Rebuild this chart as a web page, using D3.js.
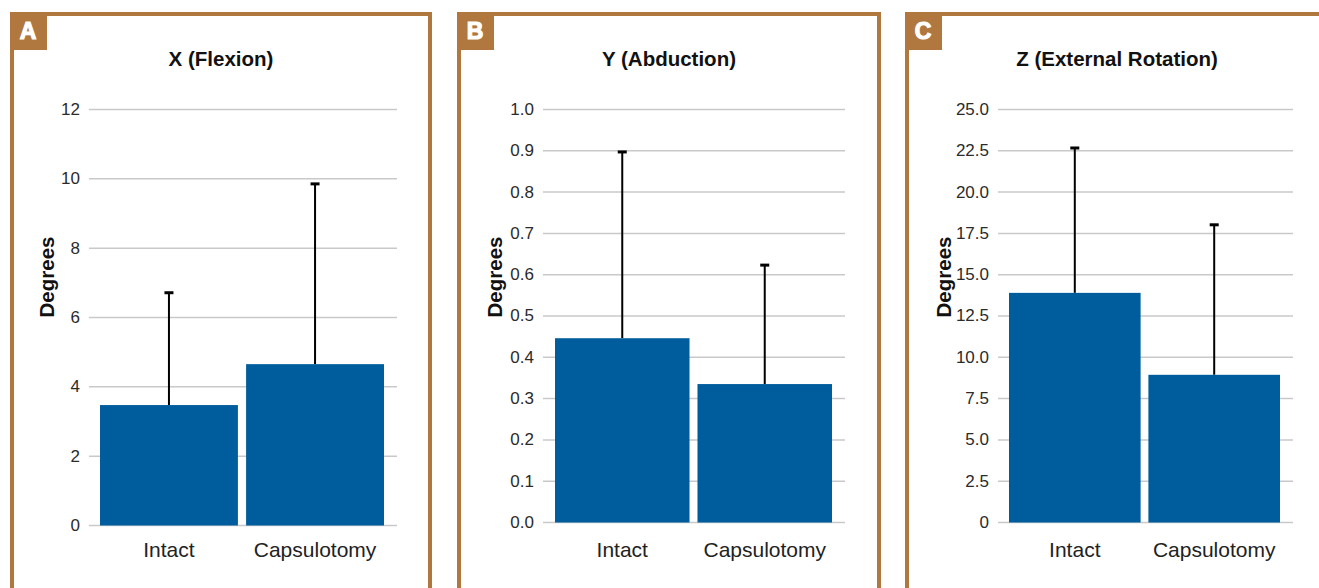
<!DOCTYPE html>
<html>
<head>
<meta charset="utf-8">
<script src="https://cdn.jsdelivr.net/npm/d3@7"></script>
<style>
  body { margin: 0; background: #fff; }
  svg { display: block; font-family: "Liberation Sans", Arial, Helvetica, sans-serif; }
</style>
</head>
<body>
<div id="chart"></div>
<script>
// data
var categories = ["Intact", "Capsulotomy"];
var panelLetters = ["A", "B", "C"];
var panelTitles = ["X (Flexion)", "Y (Abduction)", "Z (External Rotation)"];

var flexionMean = [3.46, 4.64];
var flexionSD = [3.24, 5.20];
var abductionMean = [0.445, 0.334];
var abductionSD = [0.451, 0.288];
var rotationMean = [13.87, 8.91];
var rotationSD = [8.77, 9.08];

var flexionTicks = [0, 2, 4, 6, 8, 10, 12];
var abductionTicks = [0, 0.1, 0.2, 0.3, 0.4, 0.5, 0.6, 0.7, 0.8, 0.9, 1.0];
var rotationTicks = [0, 2.5, 5, 7.5, 10, 12.5, 15, 17.5, 20, 22.5, 25];

var width = 1319, height = 588;
var brown = "#b0773f", blue = "#005d9d";

var svg = d3.select("#chart").append("svg")
    .attr("width", width)
    .attr("height", height);

// layout for each panel (frame, plot area, bars)
var panels = [
  { frameX: 12, frameW: 418, gridL: 89, gridR: 397, barL: 100, barR: 384, y0: 525, degX: 46,
    mean: flexionMean, sd: flexionSD, ticks: flexionTicks, max: 12, fmt: d3.format("d") },
  { frameX: 459, frameW: 420, gridL: 543, gridR: 845, barL: 555, barR: 832, y0: 522, degX: 494,
    mean: abductionMean, sd: abductionSD, ticks: abductionTicks, max: 1, fmt: d3.format(".1f") },
  { frameX: 907, frameW: 420, gridL: 998, gridR: 1293, barL: 1009, barR: 1280, y0: 522, degX: 943,
    mean: rotationMean, sd: rotationSD, ticks: rotationTicks, max: 25, fmt: d => d == 0 ? "0" : d3.format(".1f")(d) }
];

panels.forEach(function(p, i) {
    var g = svg.append("g");

    // frame
    g.append("rect")
        .attr("x", p.frameX).attr("y", 14)
        .attr("width", p.frameW).attr("height", 620)
        .attr("fill", "none")
        .attr("stroke", brown).attr("stroke-width", 4);

    // letter tag
    g.append("rect")
        .attr("x", p.frameX - 2).attr("y", 12)
        .attr("width", 37).attr("height", 38)
        .attr("fill", brown);
    g.append("text")
        .attr("x", p.frameX + 16).attr("y", 39)
        .attr("text-anchor", "middle")
        .attr("fill", "#fff")
        .attr("stroke", "#fff").attr("stroke-width", 1.2)
        .style("font-size", "23px").style("font-weight", "bold")
        .text(panelLetters[i]);

    // title
    g.append("text")
        .attr("x", p.frameX + p.frameW / 2).attr("y", 66)
        .attr("text-anchor", "middle")
        .attr("fill", "#111")
        .style("font-size", "20.5px").style("font-weight", "bold")
        .text(panelTitles[i]);

    var y = d3.scaleLinear().domain([0, p.max]).range([p.y0, 109]);
    var x = d3.scaleBand().domain(categories)
        .range([p.barL, p.barR])
        .paddingInner(0.056);

    // y axis with gridlines
    var yAxis = g.append("g")
        .attr("transform", "translate(" + p.gridL + ",0)")
        .call(d3.axisLeft(y)
            .tickValues(p.ticks)
            .tickFormat(p.fmt)
            .tickSize(-(p.gridR - p.gridL))
            .tickPadding(9));
    yAxis.select(".domain").remove();
    yAxis.selectAll(".tick line")
        .attr("stroke", "#c9c9c9").attr("stroke-width", 1.5);
    yAxis.selectAll(".tick text")
        .attr("fill", "#2b2b2b")
        .style("font-size", "17px")
        .style("font-family", "'Liberation Sans', Arial, sans-serif");

    // category axis
    var xAxis = g.append("g")
        .attr("transform", "translate(0," + p.y0 + ")")
        .call(d3.axisBottom(x).tickSize(0).tickPadding(557 - p.y0 - 15));
    xAxis.select(".domain").remove();
    xAxis.selectAll(".tick text")
        .attr("fill", "#222")
        .style("font-size", "21px")
        .style("font-family", "'Liberation Sans', Arial, sans-serif");

    // error bars (upper only)
    var err = g.append("g");
    categories.forEach(function(c, j) {
        var cx = x(c) + x.bandwidth() / 2;
        var top = y(p.mean[j] + p.sd[j]);
        err.append("line")
            .attr("x1", cx).attr("x2", cx)
            .attr("y1", y(p.mean[j])).attr("y2", top)
            .attr("stroke", "#000").attr("stroke-width", 2);
        err.append("line")
            .attr("x1", cx - 4.5).attr("x2", cx + 4.5)
            .attr("y1", top).attr("y2", top)
            .attr("stroke", "#000").attr("stroke-width", 3);
    });

    // bars
    g.append("g").selectAll("rect")
        .data(categories)
        .join("rect")
        .attr("x", d => x(d))
        .attr("width", x.bandwidth())
        .attr("y", (d, j) => y(p.mean[j]))
        .attr("height", (d, j) => p.y0 + 0.5 - y(p.mean[j]))
        .attr("fill", blue);

    // y label
    g.append("text")
        .attr("transform", "translate(" + p.degX + ",277) rotate(-90)")
        .attr("text-anchor", "middle")
        .attr("dominant-baseline", "central")
        .attr("fill", "#111")
        .style("font-size", "20.5px").style("font-weight", "bold")
        .text("Degrees");
});
</script>
</body>
</html>
